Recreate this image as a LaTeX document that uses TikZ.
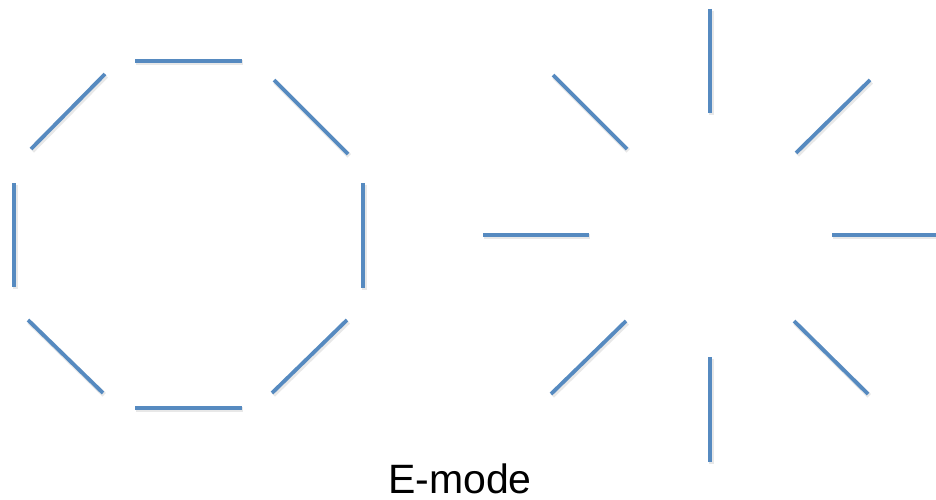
\documentclass[tikz,border=0pt]{standalone}
\usepackage{fontspec}
\setmainfont{Liberation Sans}
\definecolor{segblue}{RGB}{86,138,192}
\begin{document}
\begin{tikzpicture}[x=1pt,y=-1pt,
  seg/.style={draw=segblue,line width=3.8pt},
  segshadow/.style={draw=black!40,line width=5pt,opacity=0.22,shift={(1.2,1.8)}}]
\useasboundingbox[fill=white] (0,0) rectangle (936,500);
% left octagon
\foreach \a/\b in {{(135,61)}/{(242,61)},{(105,74)}/{(31,149)},{(274,80)}/{(348,154)},
  {(14,183)}/{(14,287)},{(363,183)}/{(363,288)},{(28,320)}/{(103,393)},
  {(347,320)}/{(272,393)},{(135,408)}/{(242,408)}}{
  \draw[segshadow] \a -- \b;
  \draw[seg] \a -- \b;
}
% right star
\foreach \a/\b in {{(710,9)}/{(710,113)},{(710,357)}/{(710,462)},{(483,235)}/{(589,235)},
  {(832,235)}/{(936,235)},{(553,75)}/{(627,149)},{(870,80)}/{(796,153)},
  {(626,321)}/{(551,394)},{(794,321)}/{(868,394)}}{
  \draw[segshadow] \a -- \b;
  \draw[seg] \a -- \b;
}
\node[anchor=base,font=\fontsize{41}{41}\selectfont,inner sep=0pt] (label) at (460,493) {E-mode};
\end{tikzpicture}
\end{document}
